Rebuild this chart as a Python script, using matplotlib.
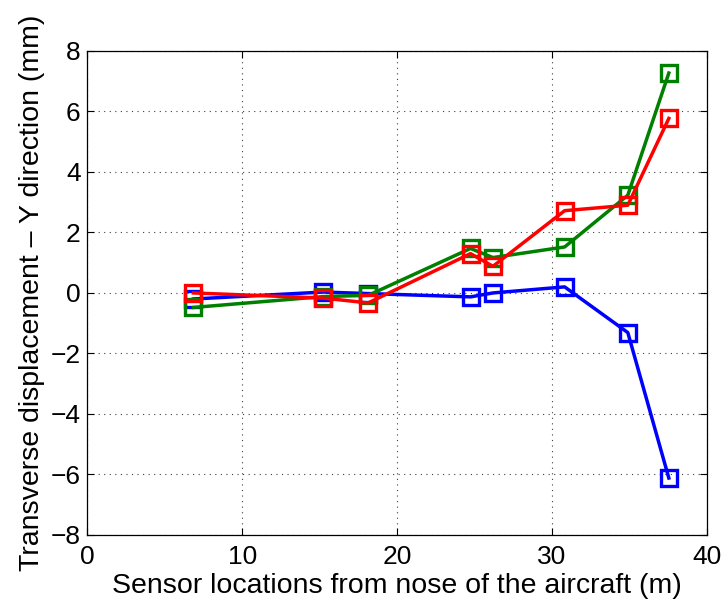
import matplotlib
matplotlib.use("Agg")
import matplotlib.pyplot as plt

# Sensor stations along the fuselage (m)
sensor_x = [6.84, 15.23, 18.13, 24.74, 26.19, 30.82, 34.9, 37.55]

# Transverse displacement in Y (mm) for three cases
disp_blue = [-0.2, 0.03, -0.02, -0.13, 0.0, 0.2, -1.31, -6.12]
disp_green = [-0.48, -0.12, -0.08, 1.47, 1.17, 1.52, 3.23, 7.27]
disp_red = [0.0, -0.17, -0.33, 1.3, 0.88, 2.72, 2.9, 5.77]

x_ticks = [0, 10, 20, 30, 40]
y_ticks = [-8, -6, -4, -2, 0, 2, 4, 6, 8]

plt.rcParams['font.family'] = ['Liberation Sans', 'DejaVu Sans']

fig = plt.figure(figsize=(7.26, 6.04), dpi=100)
ax = fig.add_axes([0.1205, 0.1144, 0.853, 0.8012])

style = dict(marker='s', markersize=11, markerfacecolor='none',
             markeredgewidth=2.4, linewidth=2.5)
ax.plot(sensor_x, disp_blue, color=(0, 0, 1), **style)
ax.plot(sensor_x, disp_green, color=(0, 0.5, 0), **style)
ax.plot(sensor_x, disp_red, color=(1, 0, 0), **style)

ax.set_xlim(0, 40)
ax.set_ylim(-8, 8)
ax.set_xticks(x_ticks)
ax.set_yticks(y_ticks)
ax.set_yticklabels([str(v).replace('-', '\u2212') for v in y_ticks])

ax.grid(True, linestyle=(0, (1, 4)), color='0.25', linewidth=0.8)
ax.tick_params(direction='in', length=5, width=0.8, labelsize=19,
               top=True, right=True, pad=5)
ax.tick_params(axis='x', pad=7)
for s in ax.spines.values():
    s.set_linewidth(0.9)

ax.set_xlabel('Sensor locations from nose of the aircraft (m)', fontsize=20.5, labelpad=3)
ax.set_ylabel('Transverse displacement \u2013 Y direction (mm)', fontsize=20.5, labelpad=4)

fig.savefig('out.png', dpi=100)
